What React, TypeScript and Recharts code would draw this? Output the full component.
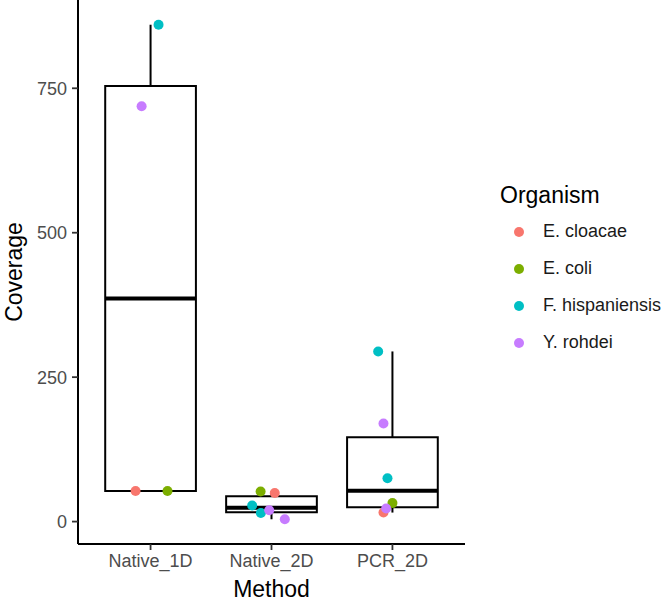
import React from 'react';
import {
  ComposedChart,
  Scatter,
  XAxis,
  YAxis,
  ReferenceArea,
  ReferenceLine,
  Legend,
  Label,
} from 'recharts';

const METHODS = ['Native_1D', 'Native_2D', 'PCR_2D'];
const Y_TICKS = [0, 250, 500, 750];

// box stats per method
const WHISKER_LOW = [53, 4, 15.6];
const Q1 = [53, 16, 24.9];
const MEDIAN = [386, 24, 53.5];
const Q3 = [754, 44, 146];
const WHISKER_HIGH = [860, 52, 294.5];

// jittered points: [method index (1-based), jitter, coverage]
const E_CLOACAE = [[1, -0.124, 53], [2, 0.027, 49.5], [3, -0.074, 15.6]];
const E_COLI = [[1, 0.14, 53], [2, -0.09, 52], [3, 0, 32]];
const F_HISPANIENSIS = [[1, 0.066, 860], [2, -0.16, 27.7], [2, -0.088, 15], [3, -0.118, 294.5], [3, -0.041, 75]];
const Y_ROHDEI = [[1, -0.074, 719], [2, -0.019, 19.6], [2, 0.11, 4], [3, -0.074, 169.7], [3, -0.052, 22.5]];

const ORGANISMS = [
  { name: 'E. cloacae', color: '#F8766D', points: E_CLOACAE },
  { name: 'E. coli', color: '#7CAE00', points: E_COLI },
  { name: 'F. hispaniensis', color: '#00BFC4', points: F_HISPANIENSIS },
  { name: 'Y. rohdei', color: '#C77CFF', points: Y_ROHDEI },
];

const FONT = '"Liberation Sans", Arial, Helvetica, sans-serif';
const HALF_BOX = 0.375;

const toXY = (pts: number[][]) => pts.map(([m, dx, y]) => ({ x: m + dx, y }));

const renderLegend = (props: any) => {
  const payload = props.payload || [];
  return (
    <div style={{ fontFamily: FONT }}>
      <div style={{ fontSize: 23, lineHeight: '28px', color: '#000' }}>Organism</div>
      <div style={{ marginTop: 4 }}>
        {payload.map((p: any) => (
          <div key={p.value} style={{ height: 37, display: 'flex', alignItems: 'center' }}>
            <span
              style={{
                display: 'inline-block',
                width: 10,
                height: 10,
                borderRadius: '50%',
                background: p.color,
                marginLeft: 14,
                marginRight: 19,
              }}
            />
            <span style={{ fontSize: 18, color: '#1a1a1a' }}>{p.value}</span>
          </div>
        ))}
      </div>
    </div>
  );
};

const App: React.FC = () => {
  return (
    <div style={{ position: 'absolute', left: 0, top: 0, width: 666, height: 601, background: '#fff', fontFamily: FONT }}>
      <ComposedChart width={666} height={601} margin={{ top: 0, right: 201, bottom: 0, left: 0 }}>
        <XAxis
          type="number"
          dataKey="x"
          domain={[0.4, 3.6]}
          ticks={[1, 2, 3]}
          allowDataOverflow
          tickFormatter={(v) => METHODS[v - 1]}
          height={57}
          stroke="#000"
          strokeWidth={2}
          tickSize={6}
          tickMargin={4}
          tickLine={{ stroke: '#333', strokeWidth: 1.8 }}
          tick={{ fill: '#4D4D4D', fontSize: 18, fontFamily: FONT }}
        >
          <Label
            content={({ viewBox }: any) => (
              <text
                x={viewBox.x + viewBox.width / 2}
                y={viewBox.y + viewBox.height - 4}
                textAnchor="middle"
                fontSize={23}
                fontFamily={FONT}
                fill="#000"
              >
                Method
              </text>
            )}
          />
        </XAxis>
        <YAxis
          type="number"
          dataKey="y"
          domain={[-38.8, 902.8]}
          ticks={Y_TICKS}
          allowDataOverflow
          width={78}
          stroke="#000"
          strokeWidth={2}
          tickSize={6}
          tickMargin={5}
          tickLine={{ stroke: '#333', strokeWidth: 1.8 }}
          tick={{ fill: '#4D4D4D', fontSize: 18, fontFamily: FONT }}
        >
          <Label
            content={({ viewBox }: any) => {
              const cx = viewBox.x + 14;
              const cy = viewBox.y + viewBox.height / 2;
              return (
                <text
                  x={cx}
                  y={cy}
                  transform={`rotate(-90 ${cx} ${cy})`}
                  textAnchor="middle"
                  dominantBaseline="central"
                  fontSize={23}
                  fontFamily={FONT}
                  fill="#000"
                >
                  Coverage
                </text>
              );
            }}
          />
        </YAxis>

        {METHODS.map((m, i) => (
          <ReferenceLine
            key={`wl-${m}`}
            segment={[{ x: i + 1, y: WHISKER_LOW[i] }, { x: i + 1, y: Q1[i] }]}
            stroke="#000"
            strokeWidth={2}
          />
        ))}
        {METHODS.map((m, i) => (
          <ReferenceLine
            key={`wh-${m}`}
            segment={[{ x: i + 1, y: Q3[i] }, { x: i + 1, y: WHISKER_HIGH[i] }]}
            stroke="#000"
            strokeWidth={2}
          />
        ))}
        {METHODS.map((m, i) => (
          <ReferenceArea
            key={`box-${m}`}
            x1={i + 1 - HALF_BOX}
            x2={i + 1 + HALF_BOX}
            y1={Q1[i]}
            y2={Q3[i]}
            fill="#fff"
            fillOpacity={1}
            stroke="#000"
            strokeWidth={2}
          />
        ))}
        {METHODS.map((m, i) => (
          <ReferenceLine
            key={`med-${m}`}
            segment={[{ x: i + 1 - HALF_BOX, y: MEDIAN[i] }, { x: i + 1 + HALF_BOX, y: MEDIAN[i] }]}
            stroke="#000"
            strokeWidth={4}
          />
        ))}

        {ORGANISMS.map((o) => (
          <Scatter
            key={o.name}
            name={o.name}
            data={toXY(o.points)}
            fill={o.color}
            isAnimationActive={false}
            shape={(p: any) => <circle cx={p.cx} cy={p.cy} r={5} fill={o.color} />}
          />
        ))}

        <Legend
          layout="vertical"
          align="center"
          verticalAlign="middle"
          content={renderLegend}
          wrapperStyle={{ left: 500, top: 181, width: 166 }}
        />
      </ComposedChart>
    </div>
  );
};

export default App;
